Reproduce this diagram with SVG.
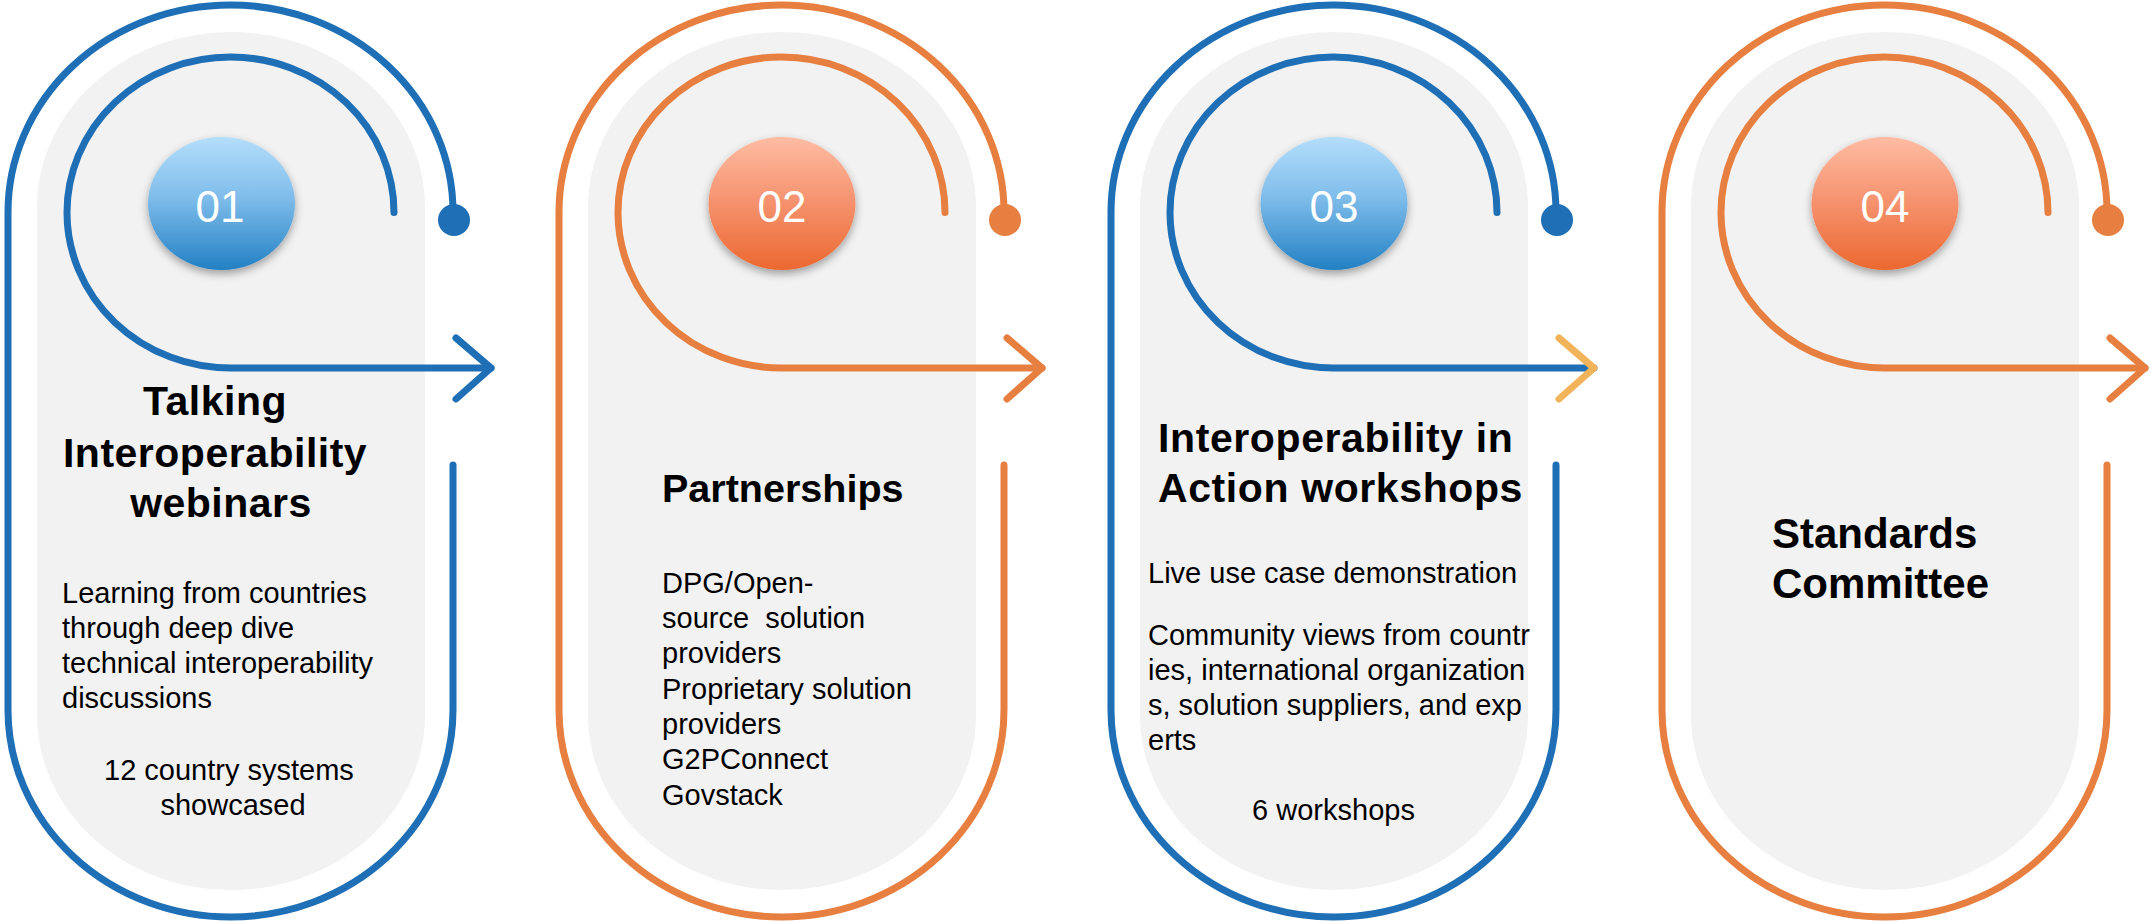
<svg xmlns="http://www.w3.org/2000/svg" width="2151" height="921" viewBox="0 0 2151 921">
  <style>
    .bg { fill: #F2F2F2; }
    .ln { fill: none; stroke-width: 7; stroke-linecap: round; stroke-linejoin: round; }
    .blue { stroke: #1F6FB6; }
    .orange { stroke: #E67F40; }
    .gold { stroke: #F2B45A; }
    .dotb { fill: #1F6FB6; }
    .doto { fill: #E67F40; }
    .title { font-family: "Liberation Sans", Arial, sans-serif; font-weight: bold; font-size: 41px; fill: #000; }
    .body { font-family: "Liberation Sans", Arial, sans-serif; font-size: 29px; fill: #000; }
    .num { font-family: "Liberation Sans", Arial, sans-serif; font-size: 44px; fill: #FFFFFF; text-anchor: middle; }
  </style>
  <defs>
    <linearGradient id="gBlue" x1="0" y1="0" x2="0" y2="1">
      <stop offset="0" stop-color="#B4DEFB"/>
      <stop offset="0.45" stop-color="#80BDEB"/>
      <stop offset="1" stop-color="#2280C3"/>
    </linearGradient>
    <linearGradient id="gOrange" x1="0" y1="0" x2="0" y2="1">
      <stop offset="0" stop-color="#FFBCA3"/>
      <stop offset="0.45" stop-color="#F69572"/>
      <stop offset="1" stop-color="#EC6830"/>
    </linearGradient>
    <filter id="sh" x="-30%" y="-30%" width="160%" height="170%">
      <feDropShadow dx="0" dy="4" stdDeviation="4" flood-color="#000" flood-opacity="0.35"/>
    </filter>
  </defs>

  <!-- Nodes -->
  <g id="node-01">
    <rect class="bg" x="37" y="32" width="388" height="858" rx="194" ry="175"/>
    <ellipse cx="221.5" cy="203.5" rx="73.5" ry="66.5" fill="url(#gBlue)" filter="url(#sh)"/>
    <text class="num" x="220" y="222">01</text>
    <text class="title" text-anchor="middle" letter-spacing="0.5">
      <tspan x="221" y="415">Talking</tspan>
      <tspan x="221" y="467">Interoperability</tspan>
      <tspan x="221" y="517">webinars</tspan>
    </text>
    <text class="body">
      <tspan x="62" y="603">Learning from countries</tspan>
      <tspan x="62" y="638">through deep dive</tspan>
      <tspan x="62" y="673">technical interoperability</tspan>
      <tspan x="62" y="708">discussions</tspan>
    </text>
    <text class="body" text-anchor="middle">
      <tspan x="233" y="780">12 country systems</tspan>
      <tspan x="233" y="815">showcased</tspan>
    </text>
  </g>

  <g id="node-02" transform="translate(551,0)">
    <rect class="bg" x="37" y="32" width="388" height="858" rx="194" ry="175"/>
    <ellipse cx="231" cy="203.5" rx="73.5" ry="66.5" fill="url(#gOrange)" filter="url(#sh)"/>
    <text class="num" x="231" y="222">02</text>
    <text class="title" x="111" y="502" style="font-size:39.5px">Partnerships</text>
    <text class="body" xml:space="preserve"><tspan x="111" y="593">DPG/Open-</tspan><tspan x="111" y="628">source  solution</tspan><tspan x="111" y="663">providers</tspan><tspan x="111" y="699">Proprietary solution</tspan><tspan x="111" y="734">providers</tspan><tspan x="111" y="769">G2PConnect</tspan><tspan x="111" y="805">Govstack</tspan></text>
  </g>

  <g id="node-03" transform="translate(1103,0)">
    <rect class="bg" x="37" y="32" width="388" height="858" rx="194" ry="175"/>
    <ellipse cx="231" cy="203.5" rx="73.5" ry="66.5" fill="url(#gBlue)" filter="url(#sh)"/>
    <text class="num" x="231" y="222">03</text>
    <text class="title" letter-spacing="0.6">
      <tspan x="55" y="452">Interoperability in</tspan>
      <tspan x="55" y="502">Action workshops</tspan>
    </text>
    <text class="body">
      <tspan x="45" y="583">Live use case demonstration</tspan>
      <tspan x="45" y="645">Community views from countr</tspan>
      <tspan x="45" y="680">ies, international organization</tspan>
      <tspan x="45" y="715">s, solution suppliers, and exp</tspan>
      <tspan x="45" y="750">erts</tspan>
    </text>
    <text class="body" x="230.5" y="820" text-anchor="middle">6 workshops</text>
  </g>

  <g id="node-04" transform="translate(1654,0)">
    <rect class="bg" x="37" y="32" width="388" height="858" rx="194" ry="175"/>
    <ellipse cx="231" cy="203.5" rx="73.5" ry="66.5" fill="url(#gOrange)" filter="url(#sh)"/>
    <text class="num" x="231" y="222">04</text>
    <text class="title" style="font-size:42px">
      <tspan x="118" y="548">Standards</tspan>
      <tspan x="118" y="598">Committee</tspan>
    </text>
  </g>

  <!-- Connectors -->
  <g id="connectors">
    <g id="conn-01">
      <path class="ln blue" d="M453,465 L453,710 A222.5,207 0 0 1 8,710 L8,212 A222.5,207 0 0 1 453,212 L453,220"/>
      <circle class="dotb" cx="454" cy="220" r="16"/>
      <path class="ln blue" d="M394,212.5 A163.5,155.5 0 1 0 230.5,368 L491,368"/>
      <path class="ln blue" d="M456,338 L491,368 L456,399"/>
    </g>
    <g id="conn-02" transform="translate(551,0)">
      <path class="ln orange" d="M453,465 L453,710 A222.5,207 0 0 1 8,710 L8,212 A222.5,207 0 0 1 453,212 L453,220"/>
      <circle class="doto" cx="454" cy="220" r="16"/>
      <path class="ln orange" d="M394,212.5 A163.5,155.5 0 1 0 230.5,368 L491,368"/>
      <path class="ln orange" d="M456,338 L491,368 L456,399"/>
    </g>
    <g id="conn-03" transform="translate(1103,0)">
      <path class="ln blue" d="M453,465 L453,710 A222.5,207 0 0 1 8,710 L8,212 A222.5,207 0 0 1 453,212 L453,220"/>
      <circle class="dotb" cx="454" cy="220" r="16"/>
      <path class="ln blue" d="M394,212.5 A163.5,155.5 0 1 0 230.5,368 L491,368"/>
      <path class="ln gold" d="M456,338 L491,368 L456,399"/>
    </g>
    <g id="conn-04" transform="translate(1654,0)">
      <path class="ln orange" d="M453,465 L453,710 A222.5,207 0 0 1 8,710 L8,212 A222.5,207 0 0 1 453,212 L453,220"/>
      <circle class="doto" cx="454" cy="220" r="16"/>
      <path class="ln orange" d="M394,212.5 A163.5,155.5 0 1 0 230.5,368 L491,368"/>
      <path class="ln orange" d="M456,338 L491,368 L456,399"/>
    </g>
  </g>
</svg>
